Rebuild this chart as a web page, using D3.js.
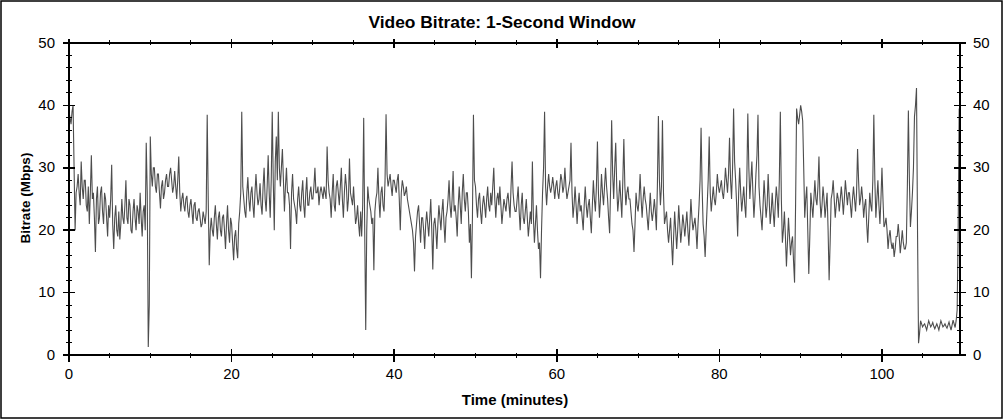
<!DOCTYPE html>
<html><head><meta charset="utf-8">
<script src="https://cdn.jsdelivr.net/npm/d3@7"></script>
<style>
html,body{margin:0;padding:0;background:#fff;}
svg{display:block;font-family:"Liberation Sans",Arial,sans-serif;}
</style></head>
<body><svg id="chart" width="1004" height="420"></svg>
<script>
// ---- data ----
const chartTitle = "Video Bitrate: 1-Second Window";
const xLabel = "Time (minutes)";
const yLabel = "Bitrate (Mbps)";
const stepMinutes = 0.25;           // main readings: one every quarter minute
const xTicks = [0, 20, 40, 60, 80, 100];
const yTicks = [0, 10, 20, 30, 40, 50];
const timeMax = 109.6;
// bitrate readings (Mbps) at t = 0, 0.25, 0.5, ... minutes
const bitrate = [
 39,37,40,20, 27,26,31,25, 28,23,21,32, 26,16.5,27,22, 27,21,25,19,
 22,30.5,17,24, 19,18.5,25,21, 28,21,24,19.5, 25,20,23,26, 19,24,34,1.3,
 35,27,30,26, 29,23.5,28,26, 29,27,30,26, 29.5,25,31.8,23, 26,23,25.5,22,
 25,21,24.5,21.5, 23.5,20.5,23,21, 38.5,14.4,22,19, 24,18.5,23,19, 22.5,17,24,18,
 21,15.2,20,15.5, 23,39,25,22, 28.5,23,27,22, 29,24,27.5,22.5, 30,23,32,22,
 39,20,35,39, 27,33,23,30, 26,17,29,24, 21,27,23,28, 22,28.5,24,27,
 25,30,26,24, 27,25,26,33.4, 26,22,29,23, 28,24,30,22, 29,23,31.5,25,
 27,21,24,19, 19,38,4,27, 24,21,13.6,25, 30,22,27,23, 38.6,27,29,25.5,
 28,26,29,20, 28,25.5,27,24, 22,20,13.4,21, 24,18,22,17, 23,19,25,13.7,
 22,17,24,20, 25,18,23,28, 22,29.5,24,19, 27,21,29,23, 26,18,12.3,38.5,
 27,22,26,21, 25.5,22,27,23, 24,30,22,26, 27,21,25,23, 26,22,31,24,
 23,27,20,26, 21,25,19,23, 31,18,24,17, 12.3,26,39,24, 29,26,28.5,25,
 28,25,29,26, 30,25,27,34, 22,27,21,26, 24,20,27,22, 25,19.5,28,23,
 34.2,22,29,24, 30,25,19.5,37.6, 25,34,23,28, 22,34.6,24,27, 25,21,16.5,26,
 23,29,22,27, 24,20,26,21.5, 25,20,38.3,24, 37.6,21,23,18, 22,14.4,23,17,
 24,18,22.5,19, 23,17.5,25,20, 22,17,24,36.4, 21,15.7,24,35, 23,27,24,29,
 26,28,25,30, 26,34.8,25,39.5, 28,19,30,23, 27,22,38.7,25, 31,22,29,38.5,
 24,20,28,22, 29,21,26,20.5, 27,22,39,18, 23,14.2,22,16, 19,11.6,39.5,37,
 40,37.5,22,27, 13,26,22,28, 24,31.8,22,27, 22,26,12,25, 28,22,26,23,
 27,22.5,28,24, 26,22,27,23, 33,24,27,22, 25,18,26,23, 38.5,22,28,21,
 30,20.5,22,17, 20,17,15.7,19, 21,16.3,20,17, 18,39.2,20.5,26, 38.2,42.8,1.9,5.5,
 4.5,5,4,5.5, 4.5,5.2,4.2,5, 4,5.5,4.5,5, 4.3,5.3,4,5.6, 4.4,7.2,39.5
];
// in-between readings (Mbps) at t = 0.125, 0.375, 0.625, ... minutes
const bitrateMid = [
 38,39,30,26, 29,24,27,28, 24,27,26,25, 22,25,21,26, 23,26,22,24,
 25,21,22,20, 23,21,22,24, 22,25,20,23, 22,24,21,22, 23,20,26,8,
 29,30,27,29, 26,27,25,28, 27,29,28,27, 27,28,26,25, 24,25,23,24,
 23,24,22,23, 22,21,22,23, 25,20,20,22, 21,22,20,22, 20,21,20,22,
 18,19,17,21, 26,27,23,26, 25,26,24,26, 26,25,24,27, 25,27,26,28,
 28,31,28,30, 30,28,27,26, 24,26,25,23, 25,24,26,24, 26,24,26,25,
 27,26,27,26, 26,27,25,28, 25,26,24,27, 26,27,25,26, 27,25,26,24,
 24,22,21,23, 24,20,20,25, 23,22,23,26, 25,26,24,28, 29,28,27,28,
 27,28,25,26, 27,26,25,23, 21,18,19,23, 21,22,20,21, 21,22,20,21,
 20,21,22,23, 21,22,25,24, 25,23,22,24, 24,26,25,26, 23,21,22,28,
 24,25,23,24, 24,25,24,26, 27,25,25,24, 24,23,24,25, 24,27,26,23,
 25,23,24,22, 23,22,21,21, 22,21,20,18, 20,30,27,27, 27,27,27,27,
 26,27,28,27, 27,26,28,26, 24,24,24,23, 22,24,24,24, 22,24,25,27,
 26,25,26,27, 27,22,27,29, 30,27,25,25, 28,27,26,25, 23,20,21,24,
 25,25,25,25, 22,23,23,23, 23,27,28,27, 26,22,20,20, 18,19,20,20,
 21,20,21,21, 20,21,22,21, 20,21,28,27, 19,20,28,26, 25,25,26,27,
 27,26,27,28, 29,28,30,31, 24,26,26,25, 24,28,30,28, 26,25,32,27,
 22,24,25,24, 25,23,23,24, 25,28,25,20, 19,18,19,18, 15,24,38,38.5,
 39,30,25,20, 19,24,25,25, 27,25,24,25, 24,20,18,26, 25,24,25,25,
 25,25,26,26, 24,25,25,26, 28,25,25,24, 21,22,24,28, 28,25,24,25,
 25,21,20,19, 18,18,17,19, 19,18,18,17, 27,28,23,30, 40,20,3.5,5,
 4.8,4.5,4.8,5, 4.8,4.6,4.6,4.5, 4.8,5,4.7,4.6, 4.8,4.6,4.8,5, 5.5,20
];

// ---- layout ----
const W = 1004, H = 420;
const plot = {left: 69, right: 960, top: 43, bottom: 355};
const svg = d3.select("#chart");

const x = d3.scaleLinear().domain([0, timeMax]).range([plot.left, plot.right]);
const y = d3.scaleLinear().domain([0, 50]).range([plot.bottom, plot.top]);

// outer frame
svg.append("rect").attr("x", 1).attr("y", 1).attr("width", W - 3).attr("height", H - 3)
  .attr("fill", "#fff").attr("stroke", "#000").attr("stroke-width", 1.5);

// data line: merge main and in-between readings in time order
const pts = [];
bitrate.forEach((v, i) => {
  pts.push([i * stepMinutes, v]);
  if (i < bitrateMid.length) pts.push([i * stepMinutes + stepMinutes / 2, bitrateMid[i]]);
});
svg.append("path").datum(pts)
  .attr("fill", "none").attr("stroke", "#4d4d4d").attr("stroke-width", 1.1)
  .attr("stroke-linejoin", "miter")
  .attr("d", d3.line().x(d => x(d[0])).y(d => y(d[1])));

// axes frame lines
const ax = svg.append("g").attr("stroke", "#000").attr("stroke-width", 1.3).attr("shape-rendering", "crispEdges");
ax.append("line").attr("x1", plot.left).attr("x2", plot.right).attr("y1", plot.bottom).attr("y2", plot.bottom);
ax.append("line").attr("x1", plot.left).attr("x2", plot.right).attr("y1", plot.top).attr("y2", plot.top);
ax.append("line").attr("x1", plot.left).attr("x2", plot.left).attr("y1", plot.top).attr("y2", plot.bottom);
ax.append("line").attr("x1", plot.right).attr("x2", plot.right).attr("y1", plot.top).attr("y2", plot.bottom);

// ticks
const tk = svg.append("g").attr("stroke", "#000").attr("stroke-width", 1).attr("shape-rendering", "crispEdges");
const yMinor = d3.range(0, 50.01, 2);
yMinor.forEach(v => {
  const yy = y(v);
  tk.append("line").attr("x1", plot.left - 3).attr("x2", plot.left + 3).attr("y1", yy).attr("y2", yy);
  tk.append("line").attr("x1", plot.right - 3).attr("x2", plot.right + 3).attr("y1", yy).attr("y2", yy);
});
yTicks.forEach(v => {
  const yy = y(v);
  tk.append("line").attr("x1", plot.left - 6).attr("x2", plot.left + 6).attr("y1", yy).attr("y2", yy).attr("stroke-width", 1.5);
  tk.append("line").attr("x1", plot.right - 6).attr("x2", plot.right + 6).attr("y1", yy).attr("y2", yy).attr("stroke-width", 1.5);
});
const xMinor = d3.range(0, timeMax, 5);
xMinor.forEach(v => {
  const xx = x(v);
  tk.append("line").attr("x1", xx).attr("x2", xx).attr("y1", plot.bottom - 2).attr("y2", plot.bottom + 3);
  tk.append("line").attr("x1", xx).attr("x2", xx).attr("y1", plot.top - 3).attr("y2", plot.top + 2);
});
xTicks.forEach(v => {
  const xx = x(v);
  tk.append("line").attr("x1", xx).attr("x2", xx).attr("y1", plot.bottom - 6).attr("y2", plot.bottom + 7).attr("stroke-width", 1.5);
  tk.append("line").attr("x1", xx).attr("x2", xx).attr("y1", plot.top - 4).attr("y2", plot.top + 5).attr("stroke-width", 1.5);
});

// tick labels
const lab = svg.append("g").attr("font-size", 15).attr("fill", "#000");
yTicks.forEach(v => {
  lab.append("text").attr("x", 55).attr("y", y(v)).attr("dy", "0.3em").attr("text-anchor", "end").text(v);
  lab.append("text").attr("x", 973).attr("y", y(v)).attr("dy", "0.3em").attr("text-anchor", "start").text(v);
});
xTicks.forEach(v => {
  lab.append("text").attr("x", x(v)).attr("y", 379).attr("text-anchor", "middle").text(v);
});

// titles
svg.append("text").attr("x", 502).attr("y", 28).attr("text-anchor", "middle")
  .attr("font-size", 17.4).attr("font-weight", "bold").text(chartTitle);
svg.append("text").attr("x", 515).attr("y", 405).attr("text-anchor", "middle")
  .attr("font-size", 15).attr("font-weight", "bold").text(xLabel);
svg.append("text").attr("transform", "translate(30,198) rotate(-90)").attr("text-anchor", "middle")
  .attr("font-size", 13.5).attr("font-weight", "bold").text(yLabel);
</script></body></html>
